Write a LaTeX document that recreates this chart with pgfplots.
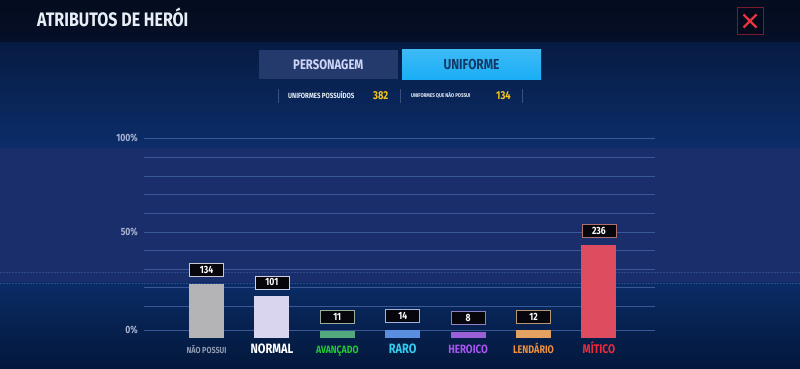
\documentclass[border=0pt]{standalone}
\usepackage{pgfplots}
\pgfplotsset{compat=1.18}
\usepackage{pgfplotstable}
\usepackage{fontspec}
\setmainfont{Fira Sans}[FakeStretch=0.82]
\newcommand{\fs}[1]{\fontsize{#1}{#1}\selectfont\bfseries}

\definecolor{hdr}{HTML}{050F26}
\definecolor{bgA}{HTML}{061B42}
\definecolor{bgB}{HTML}{0C2D6A}
\definecolor{band}{HTML}{1B2E6C}
\definecolor{bgC}{HTML}{0A2C66}
\definecolor{bgD}{HTML}{03173A}
\definecolor{gridc}{HTML}{3A5898}
\definecolor{dotc}{HTML}{2C4A8C}
\definecolor{tickc}{HTML}{A7B3D3}
\definecolor{titlec}{HTML}{E8EEF6}
\definecolor{tabA}{HTML}{243A6C}
\definecolor{tabB}{HTML}{1AAEF5}
\definecolor{tabBt}{HTML}{123A66}
\definecolor{sepc}{HTML}{3A5080}
\definecolor{yel}{HTML}{F5C518}
\definecolor{xred}{HTML}{E8343C}
\definecolor{xbord}{HTML}{7A1A30}
\definecolor{boxfill}{HTML}{06060C}
% bars
\definecolor{b0}{HTML}{B4B4B6}
\definecolor{b1}{HTML}{DAD5EE}
\definecolor{b2}{HTML}{54A97C}
\definecolor{b3}{HTML}{5A8EE0}
\definecolor{b4}{HTML}{9A60D8}
\definecolor{b5}{HTML}{E3A262}
\definecolor{b6}{HTML}{DE4C60}
% box borders
\definecolor{k0}{HTML}{C8C8D0}
\definecolor{k1}{HTML}{D0D0E4}
\definecolor{k2}{HTML}{9AAE9E}
\definecolor{k3}{HTML}{A0B4E0}
\definecolor{k4}{HTML}{9080C8}
\definecolor{k5}{HTML}{B89872}
\definecolor{k6}{HTML}{B07070}
% labels
\definecolor{l0}{HTML}{8F9AB0}
\definecolor{l1}{HTML}{FFFFFF}
\definecolor{l2}{HTML}{22CC33}
\definecolor{l3}{HTML}{33CCEE}
\definecolor{l4}{HTML}{A855F0}
\definecolor{l5}{HTML}{F0903A}
\definecolor{l6}{HTML}{EE2A3A}

\pgfplotstableread{
i n
0 134
1 101
2 11
3 14
4 8
5 12
6 236
}\uniformes

\newcommand{\barra}[3]{%
  \addplot[ybar, bar width=35pt, bar shift=0pt, fill=#2, draw=none,
    restrict x to domain=#1:#1, point meta=explicit, nodes near coords,
    every node near coord/.append style={draw=#3}]
    table[x=i, y expr=\thisrow{n}+8, meta=n]{\uniformes};}

\begin{document}
\begin{tikzpicture}[x=1pt,y=1pt]
\useasboundingbox (0,0) rectangle (800,369);
% background
\fill[bgC] (0,0) rectangle (800,369);
\shade[top color=bgC, bottom color=bgD] (0,0) rectangle (800,87);
\fill[band] (0,87) rectangle (800,221);
\shade[top color=bgA, bottom color=bgB] (0,221) rectangle (800,327);
\shade[top color=hdr!80!black, bottom color=hdr] (0,327) rectangle (800,369);
\draw[dotc, line width=0.8pt, dash pattern=on 1.5pt off 1.5pt] (0,97) -- (800,97);
\draw[dotc, line width=0.8pt, dash pattern=on 1.5pt off 1.5pt] (0,86) -- (800,86);
% header
\node[anchor=base west, inner sep=0pt, text=titlec, font=\fs{19.5}] at (37,342) {ATRIBUTOS DE HERÓI};
\draw[xbord, line width=0.8pt, fill=hdr!70!black] (737,334.3) rectangle (763.5,361.7);
\draw[xred, line width=2.2pt] (743.5,341.5) -- (756.5,354.5) (743.5,354.5) -- (756.5,341.5);
% tabs
\fill[tabA] (259,289.5) rectangle (397.5,319);
\node[anchor=base, inner sep=0pt, text=titlec!90!blue, font=\fs{13.8}] at (328.3,299.5) {PERSONAGEM};
\shade[top color=tabB!85!white, bottom color=tabB] (402,289.5) rectangle (541,319);
\node[anchor=base, inner sep=0pt, text=tabBt, font=\fs{14.5}] at (471.5,299.5) {UNIFORME};
% stats row
\draw[sepc, line width=0.7pt] (278,266) -- (278,280) (400,266) -- (400,280) (522.5,266) -- (522.5,280);
\node[anchor=base west, inner sep=0pt, text=titlec, font=\fs{7.5}] at (288,270.5) {UNIFORMES POSSUÍDOS};
\node[anchor=base west, inner sep=0pt, text=yel, font=\fs{11.5}] at (373,269) {382};
\node[anchor=base west, inner sep=0pt, text=titlec, font=\fs{5.5}] at (411,271) {UNIFORMES QUE NÃO POSSUI};
\node[anchor=base west, inner sep=0pt, text=yel, font=\fs{11.5}] at (496,269) {134};
% chart
\begin{axis}[
  at={(144pt,31pt)}, anchor=south west, scale only axis,
  width=511pt, height=201pt,
  xmin=-0.956, xmax=6.858, ymin=0, ymax=526.2,
  axis line style={draw=none}, major tick length=0pt,
  /pgf/number format/assume math mode=true,
  ytick={20.9,83.8,133.5,180.6,230.4,277.5,327.2,377.0,424.1,473.8,523.6},
  yticklabels={0\%,,,,,50\%,,,,,100\%},
  ymajorgrids, grid style={color=gridc, line width=0.8pt},
  yticklabel style={anchor=east, inner sep=0pt, xshift=-6pt, text=tickc, font=\fs{10.5}},
  xtick={0,...,6},
  xticklabels={
    {\color{l0}\fs{8.8}NÃO POSSUI},
    {\color{l1}\fs{13.5}NORMAL},
    {\color{l2}\fs{10.6}AVANÇADO},
    {\color{l3}\fs{13.5}RARO},
    {\color{l4}\fs{12}HEROICO},
    {\color{l5}\fs{11}LENDÁRIO},
    {\color{l6}\fs{12.5}MÍTICO}},
  xticklabel style={anchor=base, inner sep=0pt, yshift=-16pt},
  every node near coord/.style={fill=boxfill, line width=0.8pt,
    minimum width=34pt, minimum height=13pt, inner sep=0pt,
    text=white, font=\fs{10.5}, anchor=south, yshift=7pt},
  clip=false,
]
\barra{0}{b0}{k0}
\barra{1}{b1}{k1}
\barra{2}{b2}{k2}
\barra{3}{b3}{k3}
\barra{4}{b4}{k4}
\barra{5}{b5}{k5}
\barra{6}{b6}{k6}
\end{axis}
\end{tikzpicture}
\end{document}
